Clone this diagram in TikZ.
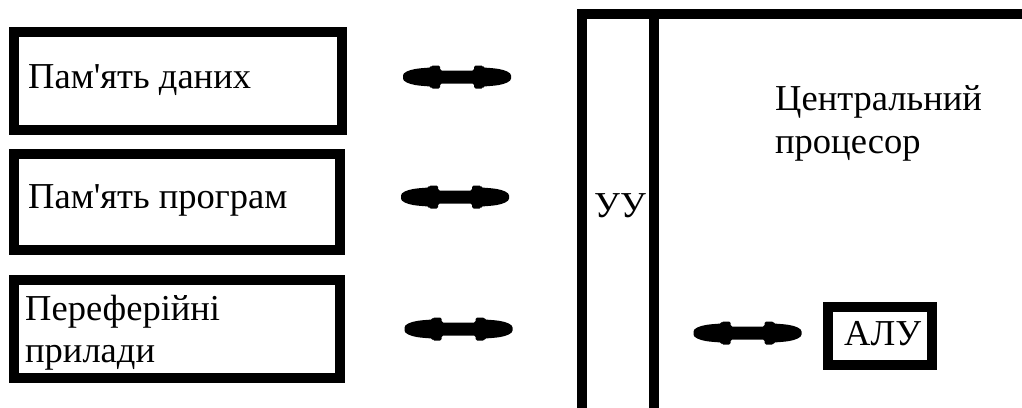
\documentclass[tikz,border=0pt]{standalone}
\usepackage{fontspec}
\setmainfont{Liberation Serif}[Ligatures=TeXOff]
\begin{document}
\begin{tikzpicture}[x=1pt,y=-1pt,
  box/.style={draw=black,line width=10.5pt,minimum width=#1,inner sep=0pt},
  txt/.style={anchor=base west,inner sep=0pt,font=\fontsize{36.5}{42}\selectfont},
  dblarrow/.pic={
    \fill[black,rounded corners=1.5pt] (-54,0) .. controls (-54,-4.5) and (-48,-7) .. (-40,-8.3)
      .. controls (-34,-9) and (-29,-9.3) .. (-26,-9.5) -- (-26,-11.5) -- (-17,-11.5) -- (-17,-6.5)
      -- (17,-6.5) -- (17,-11.5) -- (26,-11.5) -- (26,-9.5)
      .. controls (29,-9.3) and (34,-9) .. (40,-8.3) .. controls (48,-7) and (54,-4.5) .. (54,0)
      .. controls (54,4.5) and (48,7) .. (40,8.3) .. controls (34,9) and (29,9.3) .. (26,9.5)
      -- (26,11.5) -- (17,11.5) -- (17,6.5) -- (-17,6.5) -- (-17,11.5) -- (-26,11.5) -- (-26,9.5)
      .. controls (-29,9.3) and (-34,9) .. (-40,8.3) .. controls (-48,7) and (-54,4.5) .. (-54,0) -- cycle;
  }]
\useasboundingbox (0,0) rectangle (1022,407);
\clip (0,0) rectangle (1022,407);
% left boxes
\node[box=328pt,minimum height=98pt] (dmem) at (178,81) {};
\node[box=326pt,minimum height=96pt] (pmem) at (177,202) {};
\node[box=326pt,minimum height=98pt] (periph) at (177,329) {};
\node[txt] (t1) at (28,88) {Пам'ять даних};
\node[txt] (t2) at (28,208) {Пам'ять програм};
\node[txt] (t3) at (25,320) {Переферійні};
\node[txt] (t4) at (25,362) {прилади};
% arrows
\pic at (457,77) {dblarrow};
\pic at (455,197) {dblarrow};
\pic at (458.5,329) {dblarrow};
\pic at (747.5,333) {dblarrow};
% CPU
\coordinate (cpuTL) at (582,14);
\coordinate (cpuBR) at (1050,440);
\draw[line width=10pt] (cpuTL) rectangle (cpuBR);
\coordinate (divT) at (654,14);
\coordinate (divB) at (654,440);
\draw[line width=10pt] (divT) -- (divB);
\node[txt] (uu) at (594,217) {УУ};
\node[txt] (cpu1) at (775,110) {Центральний};
\node[txt] (cpu2) at (775,153) {процесор};
% ALU
\node[box=104pt,minimum height=58pt] (alu) at (880,336) {};
\node[txt] (alut) at (844,345) {АЛУ};
\end{tikzpicture}
\end{document}
